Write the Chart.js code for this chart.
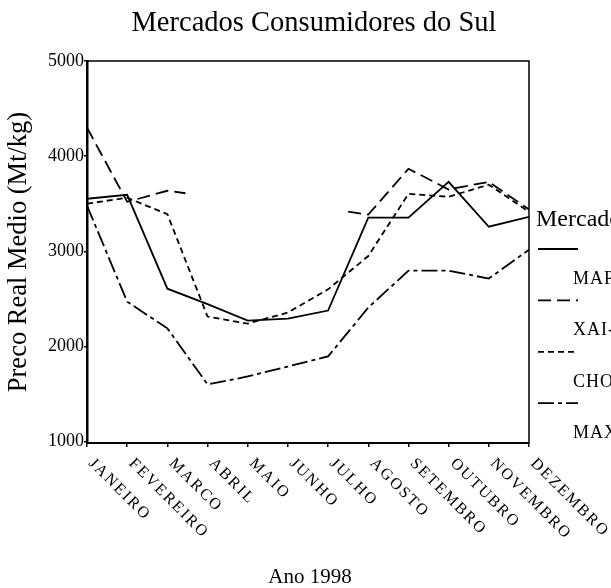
<!DOCTYPE html>
<html>
<head>
<meta charset="utf-8">
<script src="https://cdn.jsdelivr.net/npm/chart.js@4.4.0/dist/chart.umd.min.js"></script>
<style>
  html, body { margin: 0; padding: 0; background: #fff; }
  canvas { display: block; }
</style>
</head>
<body>
<canvas id="chart" width="611" height="588"></canvas>
<script>
// Mercados Consumidores do Sul — preço real médio por mês, 1998.
const MONTHS = ["JANEIRO", "FEVEREIRO", "MARCO", "ABRIL", "MAIO", "JUNHO",
  "JULHO", "AGOSTO", "SETEMBRO", "OUTUBRO", "NOVEMBRO", "DEZEMBRO"];
const Y_TICKS = [1000, 2000, 3000, 4000, 5000];

const MAPUTO = [3552, 3594, 2607, 2445, 2272, 2293, 2377, 3353, 3353, 3730, 3258, 3363];
const XAI_XAI = [4300, 3520, 3636, null, null, null, null, 3385, 3867, 3650, 3730, 3440];
// half segments the original draws next to the missing months
const XAI_XAI_STUBS = [[2.45, 3610], [6.5, 3416]];
const CHOKWE = [3500, 3563, 3390, 2314, 2240, 2356, 2600, 2950, 3604, 3573, 3700, 3415];
const MAXIXE = [3480, 2470, 2190, 1600, 1684, 1789, 1895, 2408, 2796, 2796, 2713, 3017];

const SERIES_NAMES = ["MAPUTO", "XAI-XAI", "CHOKWE", "MAXIXE"];
const DASHES = [[], [13, 6], [6, 4], [16, 4, 4, 4]];

const SERIF = '"Liberation Serif", "Times New Roman", serif';

function points(values, stubs) {
  const pts = values.map((v, i) => ({ x: i, y: v }));
  (stubs || []).forEach(([x, y]) => pts.push({ x, y }));
  pts.sort((a, b) => a.x - b.x);
  return pts;
}

// frame, rotated month labels, axis titles, chart title and the clipped legend
const decorPlugin = {
  id: "decor",
  afterDraw(chart) {
    const { ctx, chartArea: a } = chart;
    const xs = chart.scales.x;
    ctx.save();
    ctx.strokeStyle = "#000";
    ctx.lineWidth = 1.5;
    ctx.beginPath();
    ctx.moveTo(a.left, a.top);
    ctx.lineTo(a.right, a.top);
    ctx.lineTo(a.right, a.bottom);
    ctx.stroke();

    ctx.fillStyle = "#000";
    ctx.font = `16px ${SERIF}`;
    ctx.letterSpacing = "2px";
    ctx.textAlign = "left";
    ctx.textBaseline = "middle";
    MONTHS.forEach((m, i) => {
      ctx.save();
      ctx.translate(xs.getPixelForValue(i) + 4, a.bottom + 18);
      ctx.rotate(Math.PI / 4);
      ctx.fillText(m, 0, 0);
      ctx.restore();
    });
    ctx.letterSpacing = "0px";

    ctx.textAlign = "center";
    ctx.textBaseline = "alphabetic";
    ctx.font = `28.5px ${SERIF}`;
    ctx.fillText("Mercados Consumidores do Sul", 314, 31);

    ctx.font = `21px ${SERIF}`;
    ctx.fillText("Ano 1998", 310, 583);

    ctx.save();
    ctx.translate(26, 252);
    ctx.rotate(-Math.PI / 2);
    ctx.font = `26.5px ${SERIF}`;
    ctx.fillText("Preco Real Medio (Mt/kg)", 0, 0);
    ctx.restore();

    // legend (runs off the right edge, as in the original)
    ctx.textAlign = "left";
    ctx.font = `24px ${SERIF}`;
    ctx.fillText("Mercados", 536, 226);
    ctx.font = `18px ${SERIF}`;
    ctx.letterSpacing = "1px";
    SERIES_NAMES.forEach((name, i) => {
      const y = 249 + i * 51.4;
      ctx.setLineDash(DASHES[i]);
      ctx.lineWidth = 1.8;
      ctx.beginPath();
      ctx.moveTo(538, y);
      ctx.lineTo(578, y);
      ctx.stroke();
      ctx.setLineDash([]);
      ctx.fillText(name, 573, y + 35);
    });
    ctx.restore();
  },
};

const datasets = [
  points(MAPUTO),
  points(XAI_XAI, XAI_XAI_STUBS),
  points(CHOKWE),
  points(MAXIXE),
].map((data, i) => ({
  label: SERIES_NAMES[i],
  data,
  borderColor: "#000",
  borderWidth: 1.8,
  borderDash: DASHES[i],
  pointRadius: 0,
  tension: 0,
  fill: false,
  spanGaps: false,
}));

new Chart(document.getElementById("chart"), {
  type: "line",
  data: { datasets },
  plugins: [decorPlugin],
  options: {
    responsive: false,
    animation: false,
    events: [],
    layout: { padding: { top: 61, right: 82, left: 0, bottom: 0 } },
    plugins: { legend: { display: false }, title: { display: false }, tooltip: { enabled: false } },
    scales: {
      x: {
        type: "linear",
        min: 0,
        max: 11,
        afterBuildTicks: (s) => { s.ticks = MONTHS.map((_, i) => ({ value: i })); },
        afterFit: (s) => { s.height = 145; },
        ticks: { display: false },
        grid: { drawOnChartArea: false, tickLength: 4, color: "#000", lineWidth: 1.5 },
        border: { color: "#000", width: 2 },
      },
      y: {
        min: 985,
        max: 5000,
        afterBuildTicks: (s) => { s.ticks = Y_TICKS.map((v) => ({ value: v })); },
        afterFit: (s) => { s.width = 87; },
        ticks: { color: "#000", padding: 0, font: { family: SERIF, size: 18 }, callback: (v) => String(v) },
        grid: { drawOnChartArea: false, tickLength: 3, color: "#000", lineWidth: 1.5 },
        border: { color: "#000", width: 2.5 },
      },
    },
  },
});
</script>
</body>
</html>
